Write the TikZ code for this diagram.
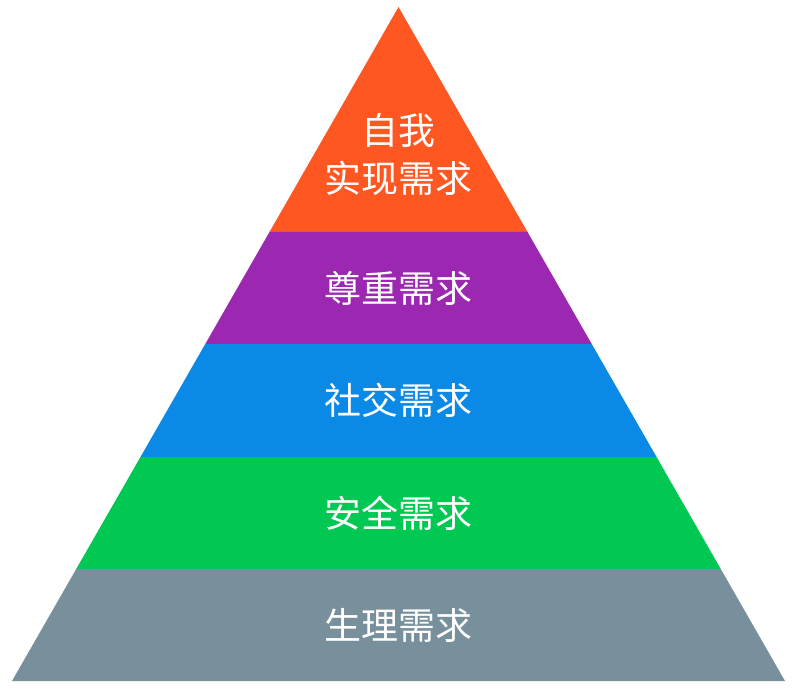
\documentclass[tikz,border=0pt]{standalone}
\usepackage{fontspec}
\newfontfamily\cjk{Noto Sans CJK SC}
\usetikzlibrary{calc}

\definecolor{selfcol}{HTML}{FF5722}
\definecolor{esteemcol}{HTML}{9C27B0}
\definecolor{socialcol}{HTML}{0A8AE6}
\definecolor{safetycol}{HTML}{00C853}
\definecolor{bodycol}{HTML}{78909C}

\begin{document}
\begin{tikzpicture}[x=1pt, y=-1pt, every node/.style={text=white,
                                  font=\cjk\fontsize{37}{48}\selectfont,
                                  align=center}]
                      \useasboundingbox (0,0) rectangle (794,689);
                      \coordinate (A) at (398.5,7);
                      \coordinate (L) at (12,681);
                      \coordinate (R) at (785,681);

                      \foreach \t/\b/\c in {0/0.3338/selfcol, 0.3338/0.5/esteemcol,
                              0.5/0.6677/socialcol, 0.6677/0.8338/safetycol,
                              0.8338/1/bodycol} {
                              \fill[\c] ($(A)!\t!(L)$) -- ($(A)!\b!(L)$)
                                  -- ($(A)!\b!(R)$) -- ($(A)!\t!(R)$) -- cycle;
                          }

                      \node (N1) at (398.5,154) {自我\\实现需求};
                      \foreach \i/\y/\s in {2/288/尊重需求, 3/400/社交需求,
                              4/513/安全需求, 5/625/生理需求} {
                              \node (N\i) at (398.5,\y) {\s};
                          }
                  \end{tikzpicture}
\end{document}
